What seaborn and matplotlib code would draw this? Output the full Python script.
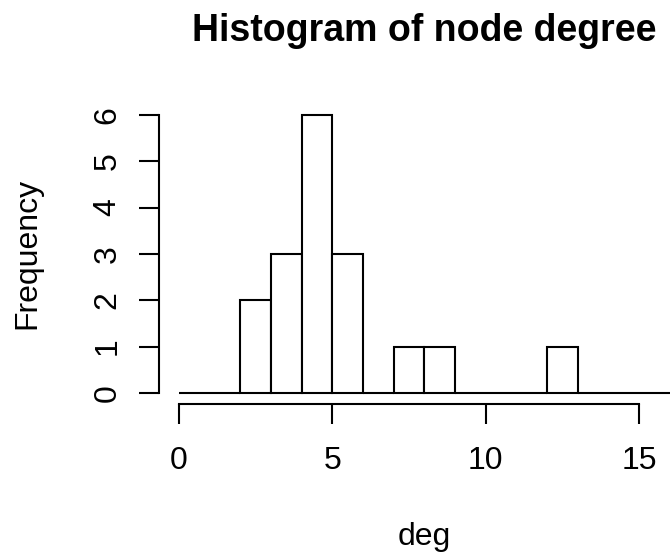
import numpy as np
import pandas as pd
import matplotlib
matplotlib.use("Agg")
import matplotlib.pyplot as plt
import seaborn as sns

# Histogram of node degree: unit-width bins from 0 to 16
breaks = list(range(0, 17))
counts = [0, 0, 2, 3, 6, 3, 0, 1, 1, 0, 0, 0, 1, 0, 0, 0]
x_ticks = [0, 5, 10, 15]
y_ticks = [0, 1, 2, 3, 4, 5, 6]

sns.set_style("ticks")
plt.rcParams["font.family"] = ["Liberation Sans", "DejaVu Sans"]
plt.rcParams["text.color"] = "black"
plt.rcParams["axes.labelcolor"] = "black"
plt.rcParams["xtick.color"] = "black"
plt.rcParams["ytick.color"] = "black"

mids = [(a + b) / 2 for a, b in zip(breaks[:-1], breaks[1:])]
df = pd.DataFrame({"deg": mids, "n": counts})

fig = plt.figure(figsize=(6.7, 5.57), dpi=100)
ax = fig.add_axes([0.2379, 0.2747, 0.7909, 0.5390])

sns.histplot(data=df, x="deg", weights="n", bins=breaks, ax=ax,
             color="white", edgecolor="black", linewidth=1.5, alpha=1)

# axis ranges padded 4% like base R graphics
span_x = breaks[-1] - breaks[0]
ax.set_xlim(breaks[0] - 0.04 * span_x, breaks[-1] + 0.04 * span_x)
ymax = max(counts)
ax.set_ylim(-0.04 * ymax, ymax * 1.04)

for side in ("top", "right"):
    ax.spines[side].set_visible(False)
ax.spines["bottom"].set_bounds(x_ticks[0], x_ticks[-1])
ax.spines["left"].set_bounds(y_ticks[0], y_ticks[-1])
for side in ("bottom", "left"):
    ax.spines[side].set_linewidth(1.5)
    ax.spines[side].set_color("black")

ax.set_xticks(x_ticks)
ax.set_yticks(y_ticks)
ax.tick_params(axis="both", direction="out", length=14.4, width=1.5,
               colors="black", labelcolor="black", labelsize=23)
ax.tick_params(axis="x", pad=16)
ax.tick_params(axis="y", pad=12, labelrotation=90)
for lbl in ax.get_yticklabels():
    lbl.set_va("center")

ax.set_xlabel("deg", fontsize=23, color="black")
ax.set_ylabel("Frequency", fontsize=23, color="black")
ax.xaxis.set_label_coords(0.5, -0.393)
ax.yaxis.set_label_coords(-0.2216, 0.5)
ax.set_title("Histogram of node degree", fontsize=27, fontweight="bold",
             color="black", pad=45)

fig.savefig("out.png", dpi=100, facecolor="white")
